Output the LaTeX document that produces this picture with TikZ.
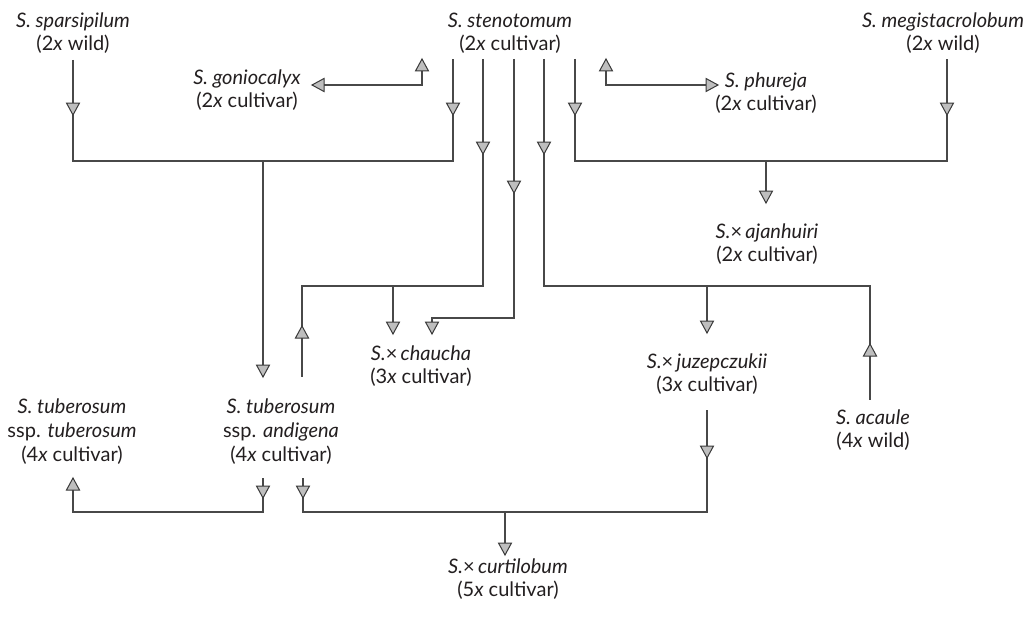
\documentclass[tikz,border=0pt]{standalone}
\usepackage{fontspec}
\setmainfont{Lato}
\definecolor{lc}{HTML}{484848}
\definecolor{tl}{HTML}{3A3A3A}
\definecolor{tf}{HTML}{BEBEBE}
\definecolor{tc}{HTML}{231F20}
\begin{document}
\begin{tikzpicture}[x=1pt,y=-1pt,
  lbl/.style={align=center, inner sep=0pt, anchor=north, text=tc, font=\fontsize{20}{23.5}\selectfont},
  lbltri/.style={lbl, font=\fontsize{20}{24}\selectfont},
  ln/.style={draw=lc, line width=1.1pt},
  trishape/.style={draw=tl, fill=tf, line width=1pt, line join=miter},
  pics/trid/.style={code={\path[trishape] (0,0) -- (-6.5,-12) -- (6.5,-12) -- cycle;}},
  pics/triu/.style={code={\path[trishape] (0,0) -- (-6.5,12) -- (6.5,12) -- cycle;}},
  pics/tril/.style={code={\path[trishape] (0,0) -- (12,-6.5) -- (12,6.5) -- cycle;}},
  pics/trir/.style={code={\path[trishape] (0,0) -- (-12,-6.5) -- (-12,6.5) -- cycle;}}]
\useasboundingbox (0,0) rectangle (1036,618);
\fill[white] (0,0) rectangle (1036,618);

% labels
\node[lbl] (spar) at (73,12.5) {\textit{S. sparsipilum}\\(2\textit{x} wild)};
\node[lbl] (steno) at (510,12.5) {\textit{S. stenotomum}\\(2\textit{x} cultivar)};
\node[lbl] (megi) at (943,12.5) {\textit{S. megistacrolobum}\\(2\textit{x} wild)};
\node[lbl] (gonio) at (247,69.5) {\textit{S. goniocalyx}\\(2\textit{x} cultivar)};
\node[lbl] (phur) at (766,72.5) {\textit{S. phureja}\\(2\textit{x} cultivar)};
\node[lbl] (ajan) at (767,223.5) {\textit{S.}×\,\textit{ajanhuiri}\\(2\textit{x} cultivar)};
\node[lbl] (chau) at (421,345.5) {\textit{S.}×\,\textit{chaucha}\\(3\textit{x} cultivar)};
\node[lbl] (juze) at (707,353.5) {\textit{S.}×\,\textit{juzepczukii}\\(3\textit{x} cultivar)};
\node[lbl] (acau) at (873,409.5) {\textit{S. acaule}\\(4\textit{x} wild)};
\node[lbltri] (tubt) at (72,398.5) {\textit{S. tuberosum}\\ssp. \textit{tuberosum}\\(4\textit{x} cultivar)};
\node[lbltri] (andi) at (281,398.5) {\textit{S. tuberosum}\\ssp. \textit{andigena}\\(4\textit{x} cultivar)};
\node[lbl] (curt) at (508,558.5) {\textit{S.}×\,\textit{curtilobum}\\(5\textit{x} cultivar)};

% coordinates
\coordinate (sparA) at (73,60);  \coordinate (sparT) at (73,115); \coordinate (sparJ) at (73,161);
\coordinate (s1A) at (453,59); \coordinate (s1T) at (453,115); \coordinate (s1J) at (453,161);
\coordinate (leftJ) at (263,161); \coordinate (andiT1) at (263,377);
\coordinate (goJ) at (422,85); \coordinate (goT) at (422,59); \coordinate (goTip) at (312,85);
\coordinate (phJ) at (606,85); \coordinate (phT) at (606,59); \coordinate (phTip) at (718,85);
\coordinate (s2A) at (483,59); \coordinate (s2T) at (483,154); \coordinate (s2J) at (483,286);
\coordinate (anJ) at (302,286); \coordinate (anT) at (302,326); \coordinate (anA) at (302,377);
\coordinate (chJ1) at (393,286); \coordinate (chT1) at (393,334);
\coordinate (s3A) at (514,59); \coordinate (s3T) at (514,193); \coordinate (s3J) at (514,318);
\coordinate (chJ2) at (432,318); \coordinate (chT2) at (432,334);
\coordinate (s4A) at (544,59); \coordinate (s4T) at (544,154); \coordinate (s4J) at (544,286);
\coordinate (acJ) at (870,286); \coordinate (acT) at (870,344); \coordinate (acA) at (870,400);
\coordinate (juJ) at (707,286); \coordinate (juT) at (707,333);
\coordinate (s5A) at (575,59); \coordinate (s5T) at (575,115); \coordinate (s5J) at (575,161);
\coordinate (meA) at (947,59); \coordinate (meT) at (947,115); \coordinate (meJ) at (947,161);
\coordinate (ajJ) at (766,161); \coordinate (ajT) at (766,203);
\coordinate (b1A) at (263,478); \coordinate (b1T) at (263,498); \coordinate (b1J) at (263,512);
\coordinate (ttJ) at (73,512); \coordinate (ttT) at (73,478);
\coordinate (b2A) at (303,478); \coordinate (b2T) at (303,498); \coordinate (b2J) at (303,512);
\coordinate (juA) at (707,410); \coordinate (juT2) at (707,458); \coordinate (juJ2) at (707,512);
\coordinate (cuJ) at (505,512); \coordinate (cuT) at (505,555);

% connectors
% sparsipilum x stenotomum -> andigena
\draw[ln] (sparA) -- (sparJ) -- (s1J) -- (s1A);
\draw[ln] (leftJ) -- (andiT1);
% goniocalyx <-> stenotomum
\draw[ln] (goT) -- (goJ) -- (goTip);
% phureja <-> stenotomum
\draw[ln] (phT) -- (phJ) -- (phTip);
% stenotomum x andigena -> chaucha
\draw[ln] (s2A) -- (s2J) -- (anJ) -- (anA);
\draw[ln] (chJ1) -- (chT1);
% stenotomum -> chaucha
\draw[ln] (s3A) -- (s3J) -- (chJ2) -- (chT2);
% stenotomum x acaule -> juzepczukii
\draw[ln] (s4A) -- (s4J) -- (acJ) -- (acA);
\draw[ln] (juJ) -- (juT);
% stenotomum x megistacrolobum -> ajanhuiri
\draw[ln] (s5A) -- (s5J) -- (meJ) -- (meA);
\draw[ln] (ajJ) -- (ajT);
% andigena -> tuberosum
\draw[ln] (b1A) -- (b1J) -- (ttJ) -- (ttT);
% andigena x juzepczukii -> curtilobum
\draw[ln] (b2A) -- (b2J) -- (juJ2) -- (juA);
\draw[ln] (cuJ) -- (cuT);

% arrowheads
\foreach \p in {sparT,s1T,andiT1,s2T,chT1,s3T,chT2,s4T,juT,s5T,meT,ajT,b1T,b2T,juT2,cuT}
  \pic at (\p) {trid};
\foreach \p in {goT,phT,anT,acT,ttT}
  \pic at (\p) {triu};
\pic at (goTip) {tril};
\pic at (phTip) {trir};
\end{tikzpicture}
\end{document}
